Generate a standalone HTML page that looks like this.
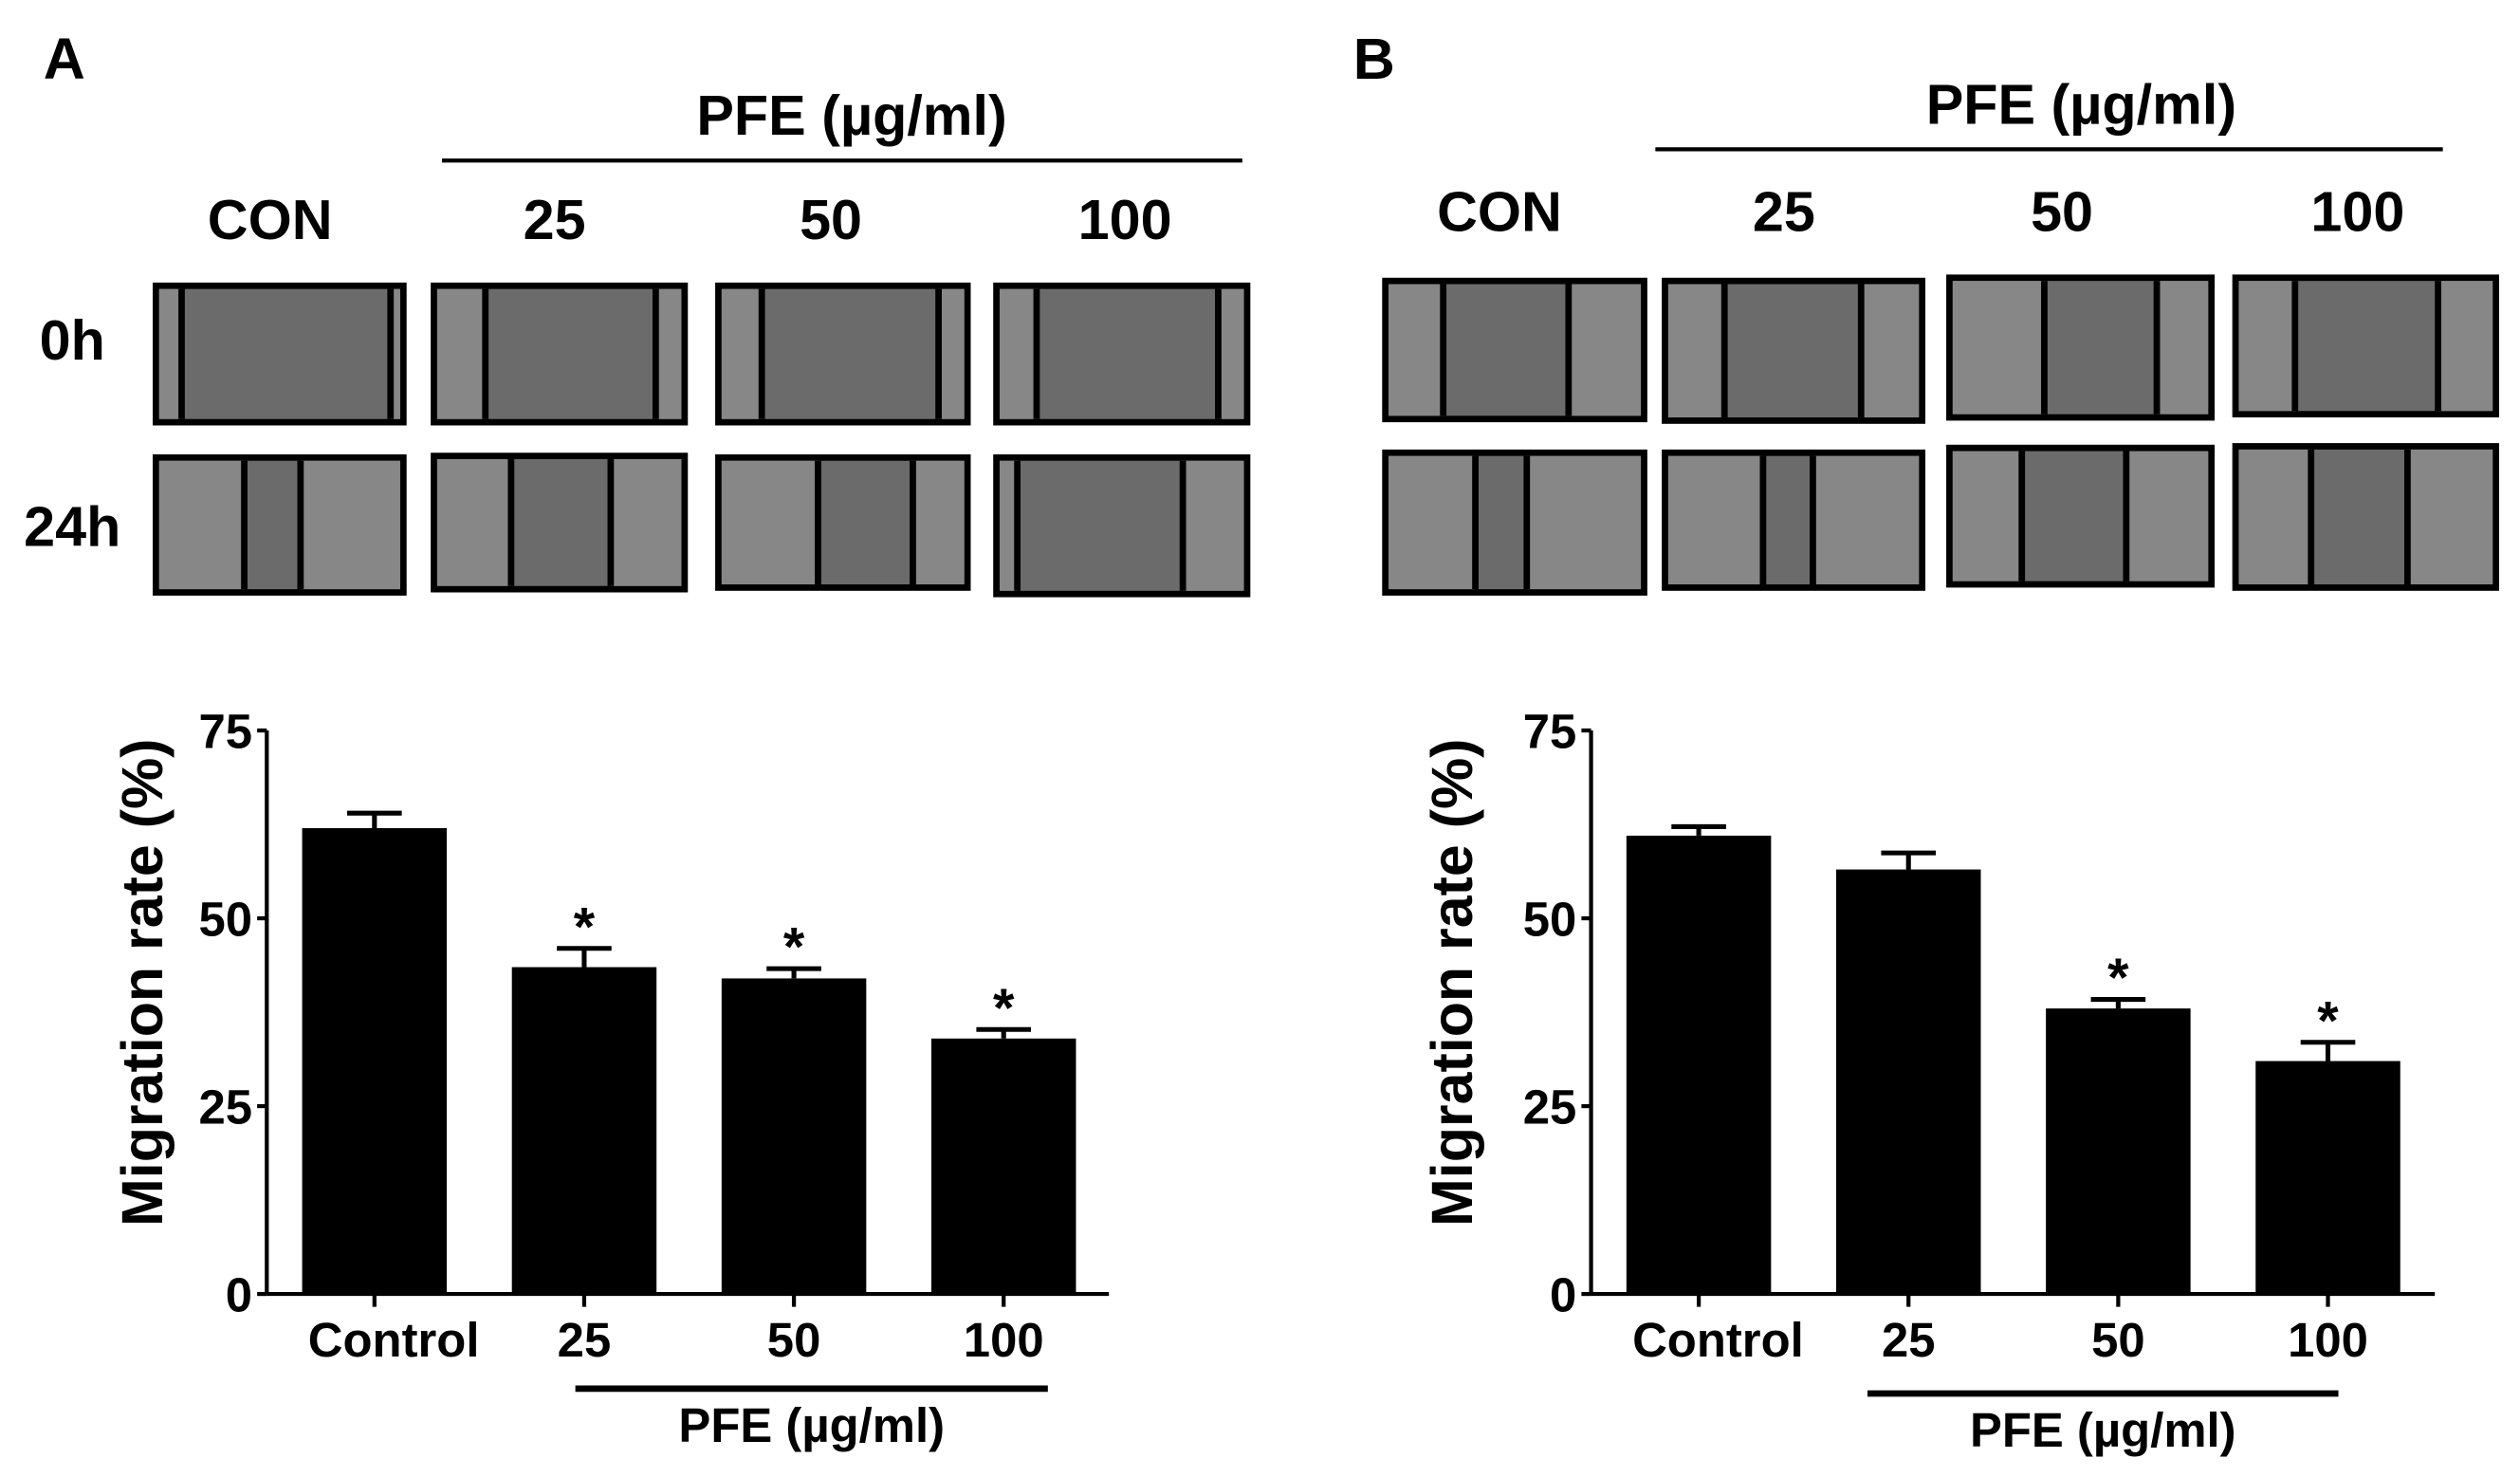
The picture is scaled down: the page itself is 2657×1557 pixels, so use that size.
<!DOCTYPE html>
<html><head><meta charset="utf-8"><style>
html,body{margin:0;padding:0;background:#fff;}
svg{display:block;font-family:"Liberation Sans",Arial,sans-serif;}
</style></head><body>
<svg id="fig" width="2657" height="1557" viewBox="0 0 1568 920" preserveAspectRatio="none" xmlns="http://www.w3.org/2000/svg">
<g id="top"></g>
<g id="charts"></g>
</svg>
<script>
const NS="http://www.w3.org/2000/svg";
const topG=document.getElementById('top');
const chG=document.getElementById('charts');
function mk(tag,attrs,parent,txt){const e=document.createElementNS(NS,tag);for(const k in attrs)e.setAttribute(k,attrs[k]);if(txt!==undefined)e.textContent=txt;parent.appendChild(e);return e;}

// ---- chart data ----
const categories=["Control","25","50","100"];
const valuesA=[62,43.5,42,34];
const errorsA=[2,2.5,1.3,1.2];
const sigA=[false,true,true,true];
const valuesB=[61,56.5,38,31];
const errorsB=[1.2,2.2,1.2,2.5];
const sigB=[false,false,true,true];
const yTicks=[0,25,50,75];

// ---- top micrograph panels ----
const colLabels=["CON","25","50","100"];
const rowLabels=["0h","24h"];
function panelTop(letter,lx,hdrX,hdrY,lineX1,lineX2,lineY,colX,colY,rowLabX,rowY,boxes,cuts){
  let t=mk('text',{x:lx,y:49,'font-size':36,'font-weight':'bold','text-anchor':'middle'},topG,letter);
  
  t=mk('text',{x:hdrX,y:hdrY,'font-size':35,'font-weight':'bold','text-anchor':'middle','xml:space':'preserve'},topG,"PFE  (µg/ml)");
  
  const l=mk('line',{x1:lineX1,x2:lineX2,y1:lineY,y2:lineY,stroke:'#000','stroke-width':2.5},topG);
  
  colLabels.forEach((c,i)=>{const e=mk('text',{x:colX[i],y:colY,'font-size':35,'font-weight':'bold','text-anchor':'middle'},topG,c);
    });
  if(rowLabX){rowLabels.forEach((r,i)=>{const e=mk('text',{x:rowLabX,y:rowY[i],'font-size':35,'font-weight':'bold','text-anchor':'middle'},topG,r);
    });}
  boxes.forEach((row,ri)=>row.forEach((b,ci)=>{
    const [x1,y1,x2,y2]=b; const g=mk('g',{},topG);
    
    mk('rect',{x:x1,y:y1,width:x2-x1,height:y2-y1,fill:'#000'},g);
    const [c1,c2]=cuts[ri][ci];
    mk('rect',{x:x1+4,y:y1+4,width:x2-x1-8,height:y2-y1-8,fill:'#6b6b6b'},g);
    mk('rect',{x:x1+4,y:y1+4,width:c1-x1-4,height:y2-y1-8,fill:'#878787'},g);
    mk('rect',{x:c2,y:y1+4,width:x2-4-c2,height:y2-y1-8,fill:'#878787'},g);
    mk('rect',{x:c1-2,y:y1+4,width:4,height:y2-y1-8,fill:'#000'},g);
    mk('rect',{x:c2-2,y:y1+4,width:4,height:y2-y1-8,fill:'#000'},g);
  }));
}
panelTop("A",40,530,84,275,773,100,[168,345,517,700],149,45,[224,340],
 [[[95,176,253,265],[268,176,428,265],[445,176,604,265],[618,176,778,265]],
  [[95,283,253,371],[268,282,428,369],[445,283,604,368],[618,283,778,372]]],
 [[[113,243],[302,408],[474,584],[645,758]],[[152,187],[318,380],[509,568],[633,736]]]);
panelTop("B",855,1295,77,1030,1520,93,[933,1110,1283,1467],144,null,null,
 [[[860,173,1025,263],[1034,173,1198,264],[1211,171,1378,262],[1389,171,1555,260]],
  [[860,280,1025,371],[1034,280,1198,368],[1211,277,1378,366],[1389,276,1555,368]]],
 [[[898,976],[1073,1158],[1272,1342],[1428,1517]],[[918,950],[1097,1128],[1258,1323],[1438,1498]]]);

// ---- bar charts ----
function chart(id,axX,axEnd,vals,errs,sig,yTitleX,pfeLine){
  const g=mk('g',{},chG);  
  const y0=806,y75=455; const ys=v=>y0-(v/75)*(y0-y75);
  const step=130.5, first=axX+67, bw=90; const xs=i=>first+i*step;
  let e=mk('line',{x1:axX,x2:axX,y1:y75,y2:y0,stroke:'#000','stroke-width':2.5},g);
  
  e=mk('line',{x1:axX,x2:axEnd,y1:y0,y2:y0,stroke:'#000','stroke-width':2.5},g);
  
  yTicks.forEach(t=>{mk('line',{x1:axX-6,x2:axX,y1:ys(t),y2:ys(t),stroke:'#000','stroke-width':2.5},g);
    const tx=mk('text',{x:axX-9,y:ys(t)+11,'font-size':30,'text-anchor':'end','font-weight':'bold'},g,String(t));
    });
  vals.forEach((v,i)=>{
    const cx=xs(i);
    mk('line',{x1:cx,x2:cx,y1:y0,y2:y0+8,stroke:'#000','stroke-width':2.5},g);
    const r=mk('rect',{x:cx-bw/2,y:ys(v),width:bw,height:y0-ys(v),fill:'#000'},g);
    
    const eb=mk('path',{d:`M${cx},${ys(v)} V${ys(v+errs[i])} M${cx-17},${ys(v+errs[i])} H${cx+17}`,stroke:'#000','stroke-width':3,fill:'none'},g);
    
    if(sig[i]){const s=mk('text',{x:cx,y:ys(v+errs[i])-2,'font-size':34,'font-weight':'bold','text-anchor':'middle'},g,'*');
      }
    const lb=mk('text',{x:cx+(i==0?12:0),y:845,'font-size':30,'font-weight':'bold','text-anchor':'middle'},g,categories[i]);
    
  });
  e=mk('text',{x:0,y:0,'font-size':36,'font-weight':'bold','text-anchor':'middle',transform:`translate(${yTitleX},612) rotate(-90)`},g,'Migration rate (%)');
  
  e=mk('line',{x1:pfeLine[0],x2:pfeLine[1],y1:pfeLine[2],y2:pfeLine[2],stroke:'#000','stroke-width':4},g);
  
  e=mk('text',{x:(pfeLine[0]+pfeLine[1])/2,y:pfeLine[2]+33,'font-size':30,'font-weight':'bold','text-anchor':'middle'},g,'PFE (µg/ml)');
  
}
chart('a',166,690,valuesA,errorsA,sigA,101,[358,652,865]);
chart('b',990,1515,valuesB,errorsB,sigB,916,[1162,1455,868]);
</script>
</body></html>
